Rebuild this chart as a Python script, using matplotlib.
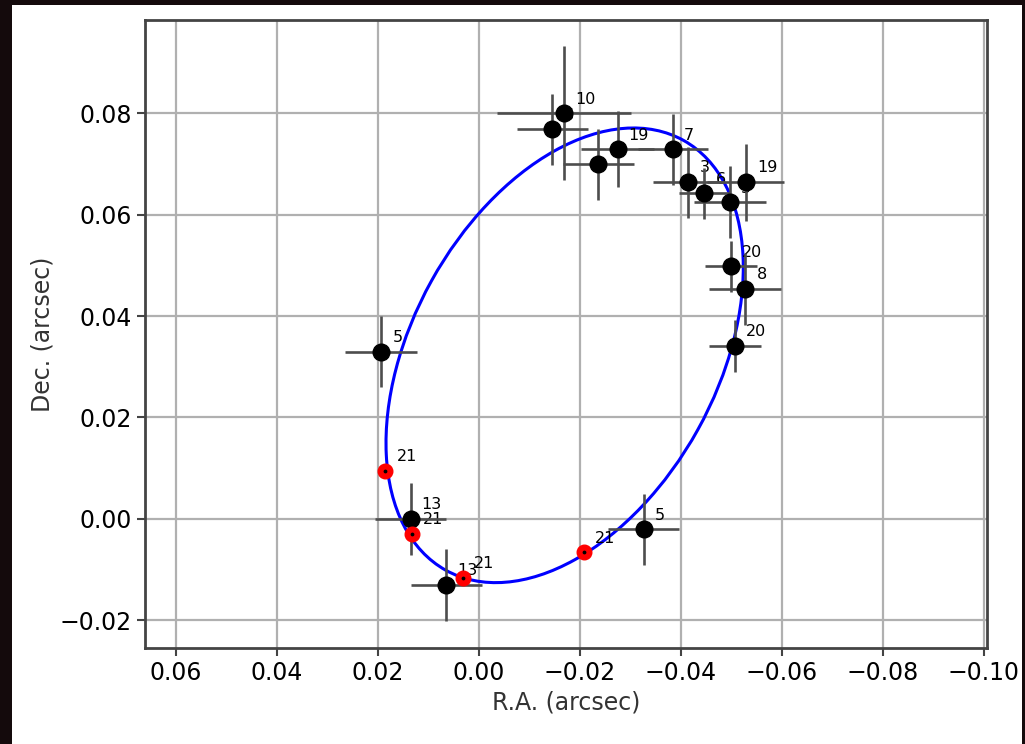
"""
Binary orbit: relative astrometry with fitted ellipse
"""
import matplotlib
matplotlib.use('Agg')
import matplotlib.pyplot as plt
from matplotlib.patches import Ellipse, Rectangle

# measured positions (black, with error bars)
ra = [0.0193, -0.0146, -0.0169, -0.0237, -0.0275, -0.0385, -0.0415, -0.0447,
      -0.0498, -0.0529, -0.0500, -0.0528, -0.0508, 0.0135, 0.0064, -0.0327]
dec = [0.0330, 0.0768, 0.0800, 0.0699, 0.0729, 0.0729, 0.0664, 0.0642,
       0.0624, 0.0664, 0.0498, 0.0453, 0.0341, 0.0000, -0.0131, -0.0021]
ra_err = [0.0071, 0.0070, 0.0132, 0.0070, 0.0072, 0.0070, 0.0070, 0.0050,
          0.0071, 0.0076, 0.0051, 0.0071, 0.0051, 0.0071, 0.0071, 0.0070]
dec_err = [0.0071, 0.0070, 0.0132, 0.0070, 0.0075, 0.0070, 0.0070, 0.0050,
           0.0071, 0.0076, 0.0051, 0.0071, 0.0051, 0.0071, 0.0071, 0.0070]
labels = ['5', '6', '10', '4', '19', '7', '3', '6',
          '5', '19', '20', '8', '20', '13', '13', '5']

# predicted positions (red)
ra_pred = [0.0185, 0.0133, 0.0032, -0.0209]
dec_pred = [0.0094, -0.0030, -0.0117, -0.0066]
labels_pred = ['21', '21', '21', '21']

# orbit ellipse (centre, semi-axes, angle in degrees)
orb_center = (-0.01702, 0.03225)
orb_a = 0.04850
orb_b = 0.03019
orb_angle = -60.9

fig = plt.figure(figsize=(10.25, 7.44), dpi=100, facecolor='#140a0c')
# white page inside the dark screenshot border
fig.add_artist(Rectangle((12 / 1025, 0), 1010 / 1025, 739 / 744,
                         transform=fig.transFigure, facecolor='white',
                         edgecolor='none', zorder=0))

ax = fig.add_axes([0.1415, 0.129, 0.8215, 0.8441])

ax.add_patch(Ellipse(orb_center, 2 * orb_a, 2 * orb_b, angle=orb_angle,
                     fill=False, edgecolor='blue', lw=2.2, zorder=2))

ax.errorbar(ra, dec, xerr=ra_err, yerr=dec_err, fmt='o', color='black',
            ms=12, ecolor='#4d4d4d', elinewidth=1.9, capsize=0, zorder=3)
for x, y, t in zip(ra, dec, labels):
    ax.annotate(t, (x, y), xytext=(8, 7), textcoords='offset points',
                fontsize=11.5, ha='left', va='baseline', zorder=2.5)

ax.plot(ra_pred, dec_pred, 'o', color='red', ms=10.5, zorder=4)
ax.plot(ra_pred, dec_pred, '.', color='black', ms=3.5, zorder=5)
for x, y, t in zip(ra_pred, dec_pred, labels_pred):
    ax.annotate(t, (x, y), xytext=(8, 7), textcoords='offset points',
                fontsize=11.5, ha='left', va='baseline', zorder=2.5)

ax.set_xlim(0.0661, -0.1007)
ax.set_ylim(-0.0255, 0.0984)
ax.set_xticks([0.06, 0.04, 0.02, 0.0, -0.02, -0.04, -0.06, -0.08, -0.10])
ax.set_yticks([-0.02, 0.0, 0.02, 0.04, 0.06, 0.08])
ax.grid(True, color='#b0b0b0', lw=1.6)
ax.set_axisbelow(True)
ax.tick_params(labelsize=17, length=6, width=1.5, color='#444444')
for s in ax.spines.values():
    s.set_linewidth(2)
    s.set_color('#444444')

ax.set_xlabel('R.A. (arcsec)', fontsize=17, color='#333333')
ax.set_ylabel('Dec. (arcsec)', fontsize=17, color='#333333')

fig.savefig('out.png', dpi=100, facecolor=fig.get_facecolor())
